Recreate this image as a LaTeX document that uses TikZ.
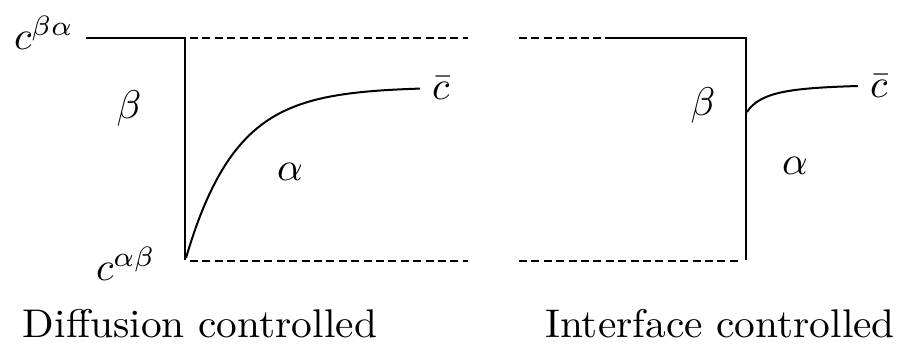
\documentclass[tikz,border=0pt]{standalone}
\usepackage{tikz}
\usetikzlibrary{positioning}

\begin{document}
\begin{tikzpicture}[x=0.5pt, y=-0.5pt, line width=1pt,
  sym/.style={scale=2, transform shape, inner sep=0pt},
  captxt/.style={xscale=2.07, yscale=2, transform shape, inner sep=0pt},
  dsh/.style={dash pattern=on 4pt off 2.2pt}]
\useasboundingbox (0,0) rectangle (906,344);
% left: diffusion controlled
\coordinate (tl) at (86,38); \coordinate (tk) at (185,38); \coordinate (bk) at (185,260);
\coordinate (tde) at (468,38); \coordinate (bds) at (190,261); \coordinate (bde) at (468,261);
\coordinate (el) at (420,88);
\draw (tl) -- (tk) -- (bk);
\draw[dsh] (190,38) -- (tde);
\draw[dsh] (bds) -- (bde);
\draw[domain=186:420, samples=80] plot (\x, {87+171*exp(-(\x-186)/50)});
\node[sym] (cba) at (44,33) {$c^{\beta\alpha}$};
\node[sym] (cab) at (126,264) {$c^{\alpha\beta}$};
\node[sym] (betaL) at (129,108) {$\beta$};
\node[sym] (alphaL) at (290,172) {$\alpha$};
\node[sym, right=5pt of el] (cbarL) {$\bar{c}$};
% right: interface controlled
\coordinate (tr) at (746,38); \coordinate (br) at (746,260);
\draw[dsh] (519,38) -- (602,38);
\draw (605,38) -- (tr) -- (br);
\draw[dsh] (519,261) -- (740,261);
\coordinate (jr) at (747,112); \coordinate (er) at (858,86);
\draw (jr) .. controls (760,92) and (790,88) .. (er);
\node[sym] (betaR) at (703,105) {$\beta$};
\node[sym] (alphaR) at (795,166) {$\alpha$};
\node[sym, right=5pt of er] (cbarR) {$\bar{c}$};
% captions
\node[captxt] (capL) at (200,324) {Diffusion controlled};
\node[captxt] (capR) at (720,324) {Interface controlled};
\end{tikzpicture}
\end{document}
